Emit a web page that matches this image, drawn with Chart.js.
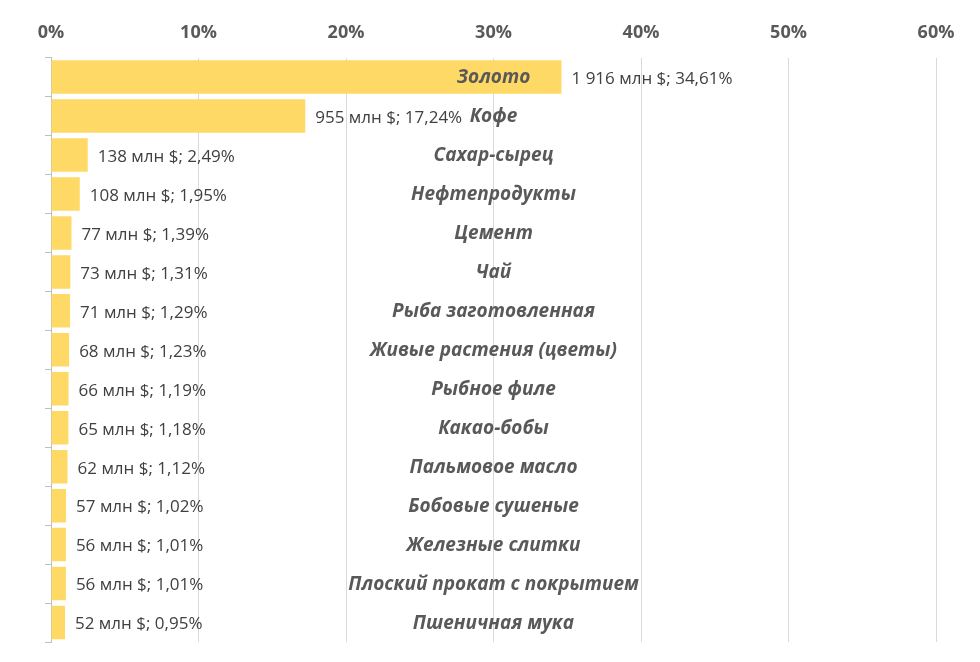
<!DOCTYPE html>
<html>
<head>
<meta charset="utf-8">
<script src="https://cdn.jsdelivr.net/npm/chart.js@4.4.0/dist/chart.umd.min.js"></script>
<style>
  html, body { margin: 0; padding: 0; background: #fff; }
  #wrap { width: 980px; height: 662px; }
</style>
</head>
<body>
<div id="wrap"><canvas id="chart"></canvas></div>
<script>
const categories = ['Золото', 'Кофе', 'Сахар-сырец', 'Нефтепродукты', 'Цемент', 'Чай',
  'Рыба заготовленная', 'Живые растения (цветы)', 'Рыбное филе', 'Какао-бобы',
  'Пальмовое масло', 'Бобовые сушеные', 'Железные слитки', 'Плоский прокат с покрытием',
  'Пшеничная мука'];
const shares = [34.61, 17.24, 2.49, 1.95, 1.39, 1.31, 1.29, 1.23, 1.19, 1.18, 1.12, 1.02, 1.01, 1.01, 0.95];
const amounts = ['1 916', '955', '138', '108', '77', '73', '71', '68', '66', '65', '62', '57', '56', '56', '52'];

const labelPlugin = {
  id: 'labels',
  afterDatasetsDraw(chart) {
    const { ctx, chartArea } = chart;
    const meta = chart.getDatasetMeta(0);
    const cx = (chartArea.left + chartArea.right) / 2;
    ctx.save();
    ctx.textBaseline = 'middle';
    meta.data.forEach((bar, i) => {
      ctx.fillStyle = '#404040';
      ctx.font = '17px "Open Sans", sans-serif';
      ctx.textAlign = 'left';
      const pct = shares[i].toFixed(2).replace('.', ',');
      ctx.fillText(amounts[i] + ' млн $; ' + pct + '%', bar.x + 10, bar.y + 2);
      ctx.fillStyle = '#595959';
      ctx.font = 'italic bold 19px "Open Sans", sans-serif';
      ctx.textAlign = 'center';
      ctx.fillText(categories[i], cx, bar.y + 1);
    });
    ctx.restore();
  }
};

new Chart(document.getElementById('chart'), {
  type: 'bar',
  data: {
    labels: categories,
    datasets: [{
      data: shares,
      backgroundColor: '#FFD966',
      categoryPercentage: 1,
      barPercentage: 0.86
    }]
  },
  options: {
    indexAxis: 'y',
    responsive: true,
    maintainAspectRatio: false,
    animation: false,
    layout: { padding: { left: 45, right: 44, top: 8, bottom: 20 } },
    plugins: { legend: { display: false }, tooltip: { enabled: false } },
    scales: {
      x: {
        position: 'top',
        min: 0, max: 60,
        border: { display: false },
        grid: { color: '#D9D9D9', drawTicks: false },
        ticks: {
          stepSize: 10,
          padding: 14,
          color: '#595959',
          font: { family: '"Open Sans", sans-serif', size: 18, weight: 'bold' },
          callback: v => v + '%'
        }
      },
      y: {
        offset: true,
        border: { display: true, color: '#BFBFBF' },
        grid: { display: true, drawOnChartArea: false, offset: true, tickLength: 6, color: '#BFBFBF' },
        ticks: { display: false }
      }
    }
  },
  plugins: [labelPlugin]
});
</script>
</body>
</html>
